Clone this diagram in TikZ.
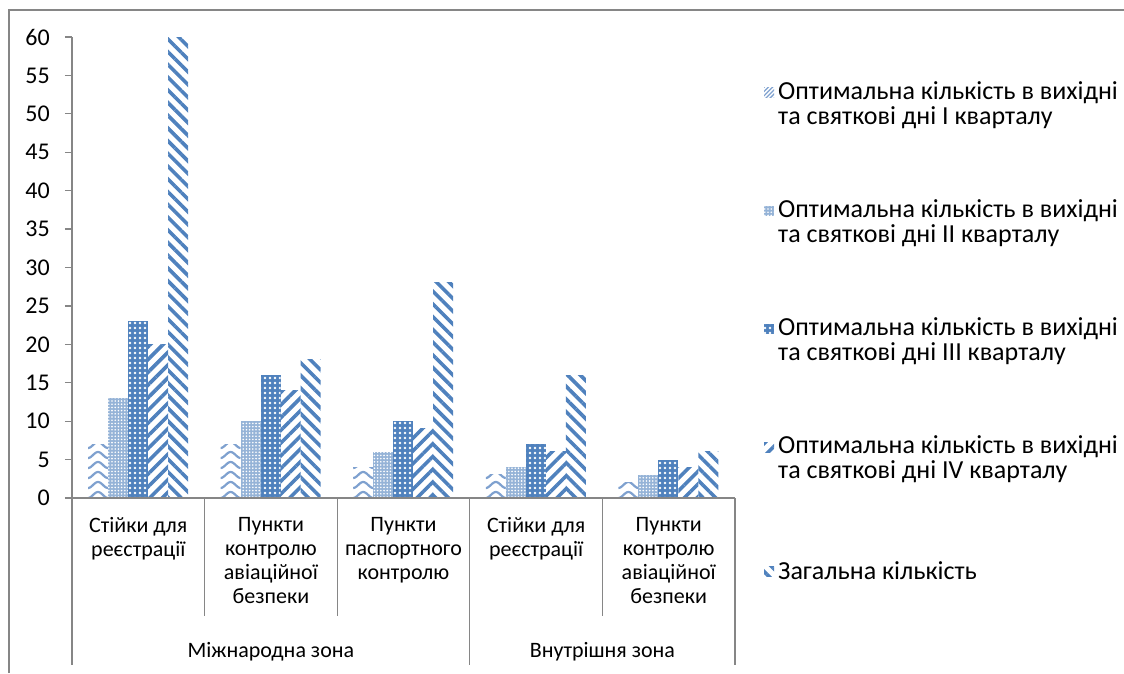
\documentclass[tikz,border=0pt]{standalone}
\usepackage{fontspec}
\setmainfont{Carlito}
\usetikzlibrary{patterns.meta}

\definecolor{barblue}{HTML}{4F81BD}
\definecolor{lightblue}{HTML}{7FA1CF}
\definecolor{axisgray}{HTML}{868686}

\tikzset{
  axisline/.style={draw=axisgray, line width=1.3pt},
  waveline/.style={draw=lightblue, line width=2.2pt},
  ser1/.style={pattern={Lines[angle=45,distance=3pt,line width=1.3pt]}, pattern color=lightblue},
  ser2/.style={fill=barblue!60, postaction={pattern={Dots[distance=3.2pt,radius=0.9pt]}, pattern color=white}},
  ser3/.style={fill=barblue, postaction={pattern={Dots[distance=5pt,radius=1.3pt]}, pattern color=white}},
  ser4/.style={pattern={Lines[angle=45,distance=9pt,line width=3.6pt]}, pattern color=barblue},
  ser5/.style={pattern={Lines[angle=-45,distance=9pt,line width=3.6pt]}, pattern color=barblue},
  lbl/.style={font=\fontsize{22}{24}\selectfont, inner sep=0pt, align=center},
  ticklbl/.style={font=\fontsize{24}{24}\selectfont, inner sep=0pt, anchor=east},
  legtext/.style={font=\fontsize{26}{25}\selectfont, inner sep=0pt, align=left, anchor=west},
}

% wavy fill for the first series
\newcommand\wavebar[2]{%
  \begin{scope}
    \clip (#1,0) rectangle ++(20,#2);
    \foreach \k in {0,...,8}
      \draw[waveline] plot[domain=0:20, samples=21] ({#1+\x},{\k*10+3-3*cos(18*\x)});
  \end{scope}}

\begin{document}
\begin{tikzpicture}[x=1pt,y=1pt]
\useasboundingbox (-72,-175) rectangle (1052,498);

% chart border
\draw[draw=axisgray, line width=1.3pt] (-63,-175) -- (-63,488) -- (1052,488);

% bars
\foreach \cat/\va/\vb/\vc/\vd/\ve in {0/7/13/23/20/60, 1/7/10/16/14/18, 2/4/6/10/9/28, 3/3/4/7/6/16, 4/2/3/5/4/6}{
  \pgfmathsetmacro\gx{\cat*132.6+16}
  \pgfmathsetmacro\ha{\va*7.683}
  \pgfmathsetmacro\hb{\vb*7.683}
  \pgfmathsetmacro\hc{\vc*7.683}
  \pgfmathsetmacro\hd{\vd*7.683}
  \pgfmathsetmacro\he{\ve*7.683}
  \wavebar{\gx}{\ha}
  \path[ser2] (\gx+20,0) rectangle ++(20,\hb);
  \path[ser3] (\gx+40,0) rectangle ++(20,\hc);
  \path[ser4] (\gx+60,0) rectangle ++(20,\hd);
  \path[ser5] (\gx+80,0) rectangle ++(20,\he);
}

% value axis
\draw[axisline] (0,0) -- (0,461);
\foreach \v in {0,5,...,60}{
  \draw[axisline] (-7,{\v*7.683}) -- (0,{\v*7.683});
  \node[ticklbl] (tick\v) at (-22,{\v*7.683}) {\v};
}

% category axis
\draw[axisline] (0,0) -- (663,0);
\foreach \xx in {132.6,265.2,530.4}
  \draw[axisline] (\xx,0) -- (\xx,-118);
\foreach \xx in {0,397.8,663}
  \draw[axisline] (\xx,0) -- (\xx,-167);

\node[lbl, anchor=north] (catA) at (66.3,-19) {Стійки для\\реєстрації};
\node[lbl, anchor=north] (catB) at (198.9,-19) {Пункти\\контролю\\авіаційної\\безпеки};
\node[lbl, anchor=north] (catC) at (331.5,-19) {Пункти\\паспортного\\контролю};
\node[lbl, anchor=north] (catD) at (464.1,-19) {Стійки для\\реєстрації};
\node[lbl, anchor=north] (catE) at (596.7,-19) {Пункти\\контролю\\авіаційної\\безпеки};
\node[lbl] (zoneA) at (198.9,-154) {Міжнародна зона};
\node[lbl] (zoneB) at (530.4,-154) {Внутрішня зона};

% legend
\path[ser1] (692,400) rectangle ++(10,10);
\path[ser2] (692,282) rectangle ++(10,10);
\path[ser3] (692,164) rectangle ++(10,10);
\path[ser4] (692,46) rectangle ++(10,10);
\path[ser5] (692,-78) rectangle ++(10,10);
\node[legtext] (legA) at (706,393) {Оптимальна кількість в вихідні\\та святкові дні І кварталу};
\node[legtext] (legB) at (706,275) {Оптимальна кількість в вихідні\\та святкові дні ІІ кварталу};
\node[legtext] (legC) at (706,157) {Оптимальна кількість в вихідні\\та святкові дні ІІІ кварталу};
\node[legtext] (legD) at (706,39) {Оптимальна кількість в вихідні\\та святкові дні IV кварталу};
\node[legtext] (legE) at (706,-73) {Загальна кількість};
\end{tikzpicture}
\end{document}
